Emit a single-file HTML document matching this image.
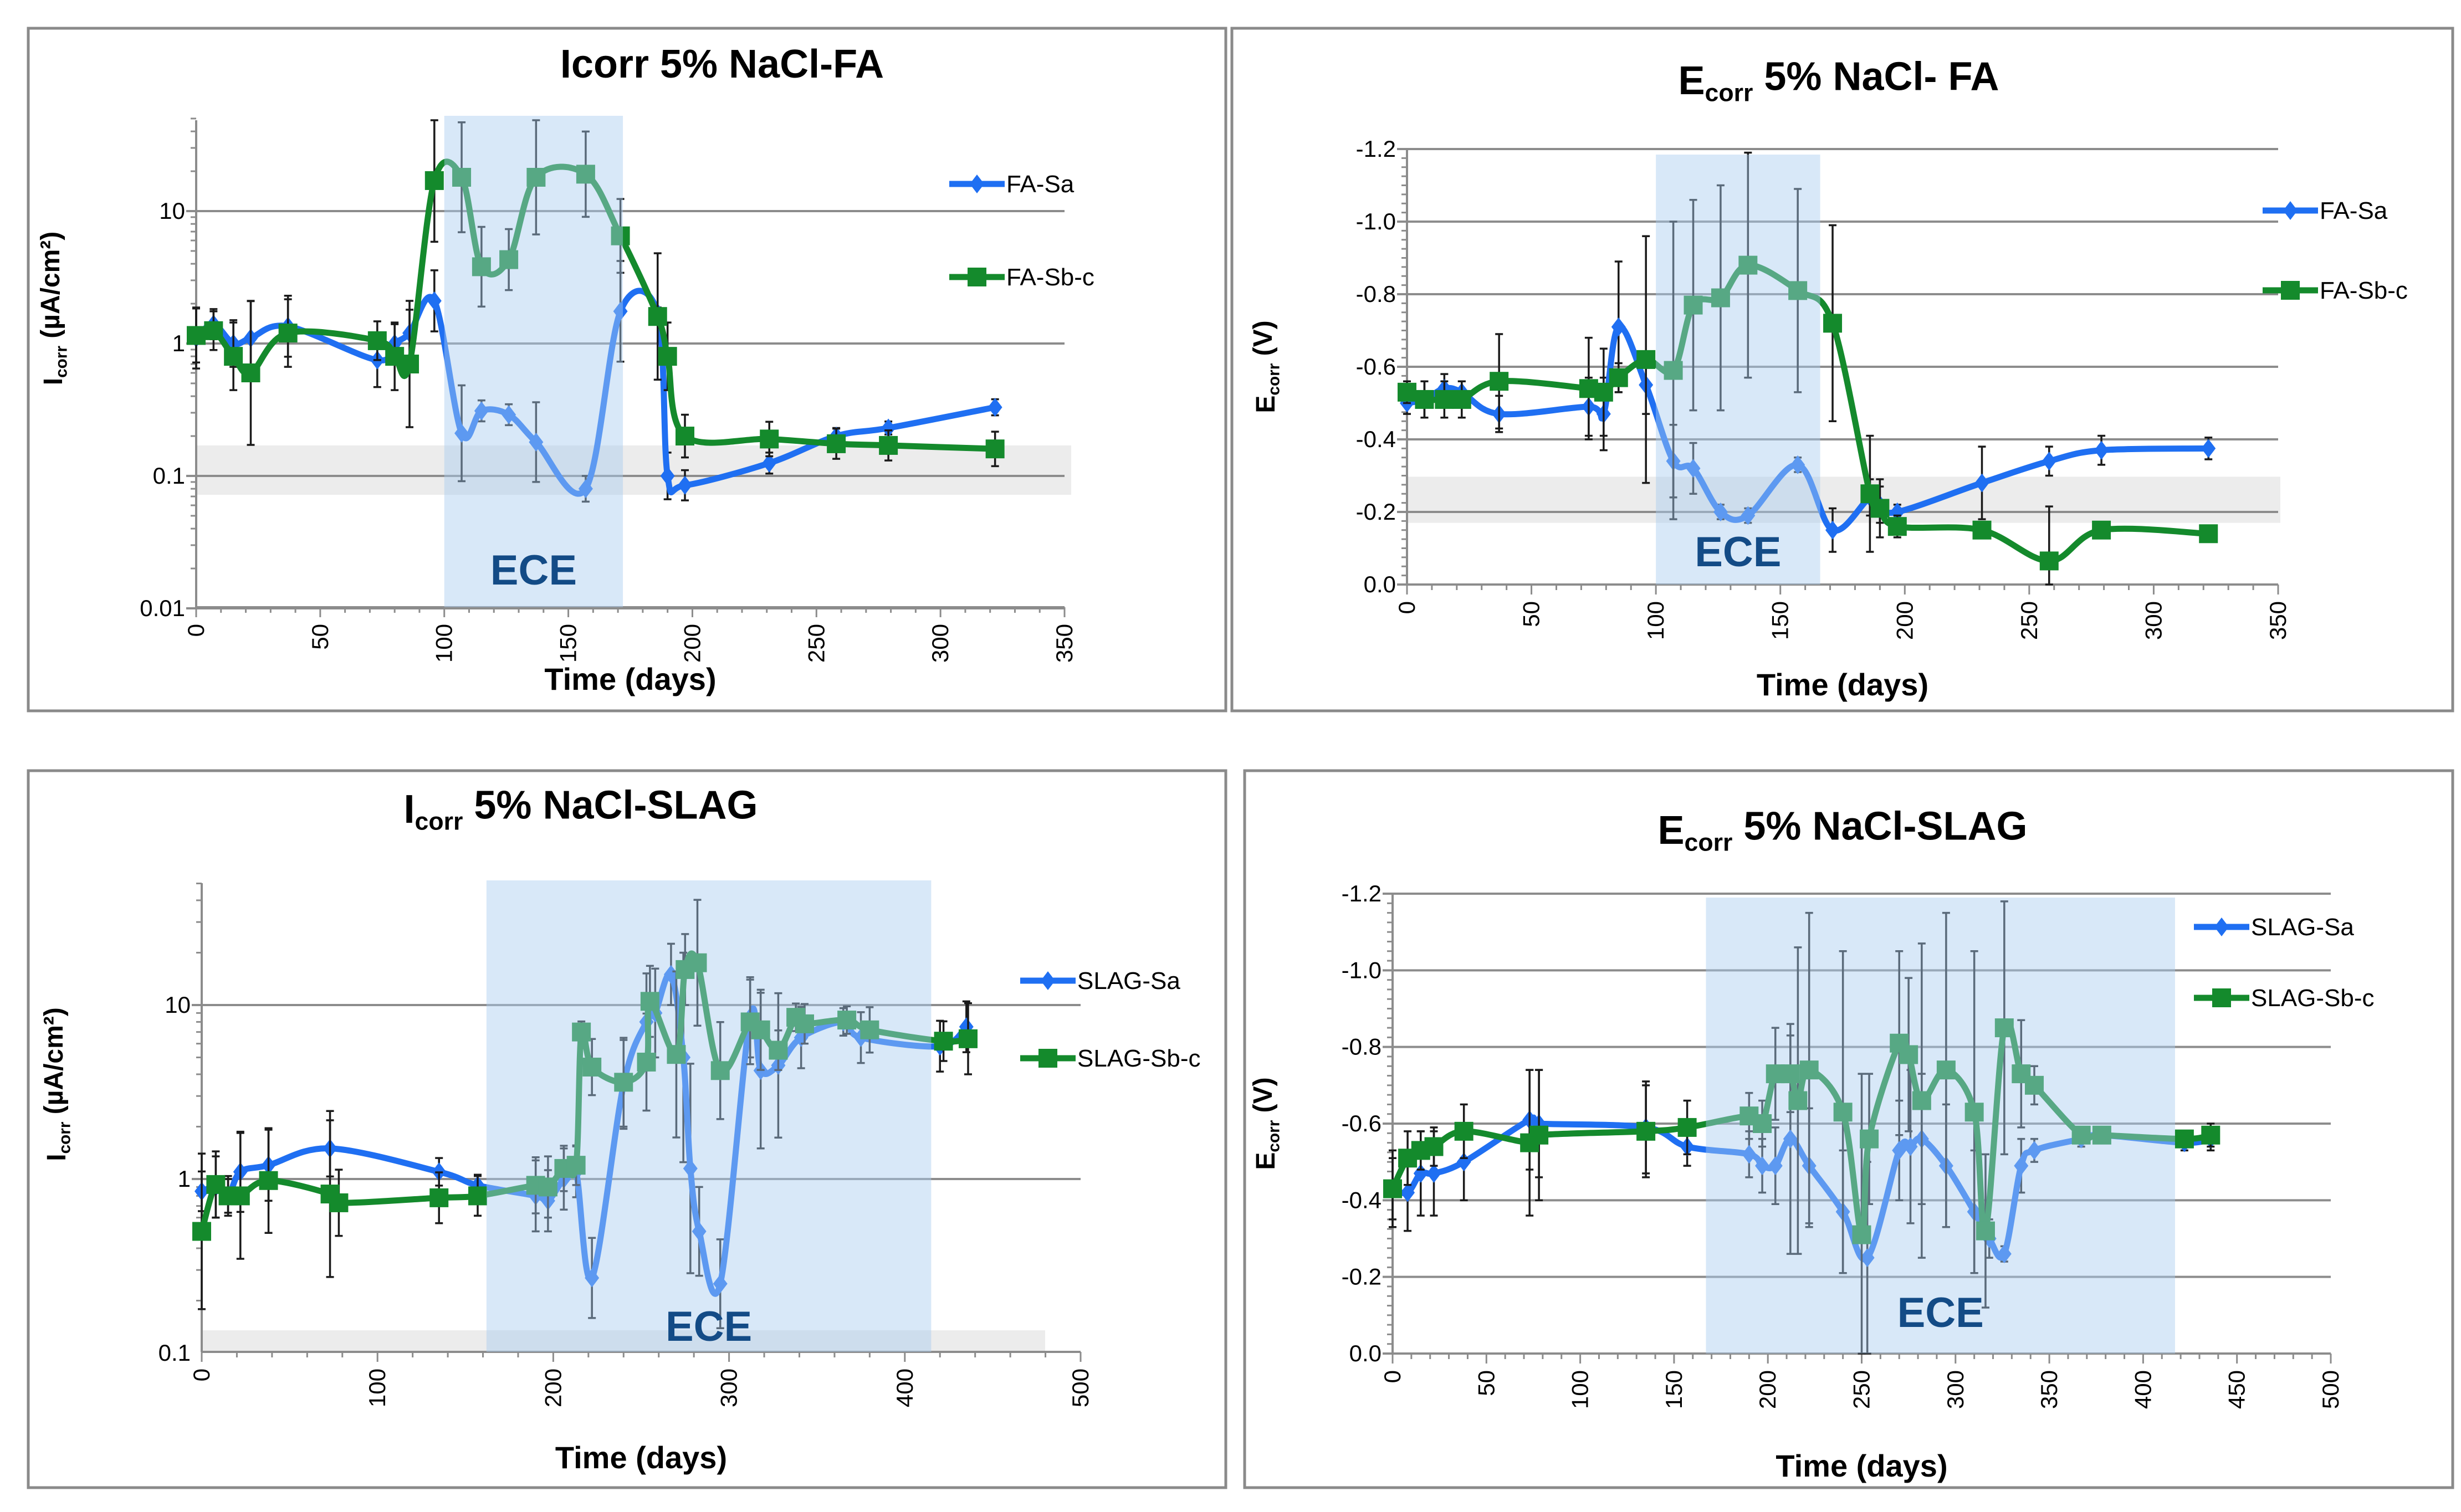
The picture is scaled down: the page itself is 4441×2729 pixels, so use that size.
<!DOCTYPE html>
<html><head><meta charset="utf-8"><style>
html,body{margin:0;padding:0;background:#fff;}
svg{display:block;font-family:"Liberation Sans Narrow","Liberation Sans",sans-serif;}
</style></head><body>
<svg id="s" width="4441" height="2729" viewBox="0 0 4441 2729" xmlns="http://www.w3.org/2000/svg"></svg>
<script>
// ---------- Panel 1: Icorr FA ----------
const p1Days=[0,7,15,22,37,73,80,86,96,107,115,126,137,157,171,186,190,197,231,258,279,322];
const p1Sa=[1.1,1.4,1.0,1.1,1.35,0.75,1.0,1.2,2.1,0.21,0.31,0.29,0.18,0.08,1.75,1.7,0.1,0.085,0.125,0.2,0.23,0.33];
const p1SaErr=[1.7,1.3,1.5,1.9,1.7,1.6,1.4,1.5,1.7,2.3,1.2,1.2,2,1.25,2.4,1.1,1.5,1.3,1.2,1.15,1.12,1.15];
const p1Sb=[1.15,1.25,0.8,0.6,1.2,1.05,0.8,0.7,17,18,3.8,4.3,18,19,6.5,1.6,0.8,0.2,0.19,0.175,0.17,0.16];
const p1SbErr=[1.6,1.4,1.8,3.5,1.8,1.4,1.8,3,2.9,2.6,2,1.7,2.7,2.1,1.9,3,1.8,1.45,1.35,1.3,1.3,1.35];
// ---------- Panel 2: Ecorr FA ----------
const p2Days=[0,7,15,22,37,73,79,85,96,107,115,126,137,157,171,186,190,197,231,258,279,322];
const p2Sa=[-0.50,-0.51,-0.54,-0.53,-0.47,-0.49,-0.47,-0.71,-0.55,-0.34,-0.32,-0.20,-0.19,-0.33,-0.15,-0.24,-0.22,-0.20,-0.28,-0.34,-0.37,-0.375];
const p2SaErr=[0.03,0.05,0.04,0.03,0.05,0.08,0.1,0.18,0.08,0.1,0.07,0.02,0.02,0.02,0.06,0.05,0.05,0.02,0.1,0.04,0.04,0.03];
const p2Sb=[-0.53,-0.51,-0.51,-0.51,-0.56,-0.54,-0.53,-0.57,-0.62,-0.59,-0.77,-0.79,-0.88,-0.81,-0.72,-0.25,-0.21,-0.16,-0.15,-0.065,-0.15,-0.14];
const p2SbErr=[0.03,0.05,0.05,0.05,0.13,0.14,0.12,0.04,0.34,0.41,0.29,0.31,0.31,0.28,0.27,0.16,0.08,0.03,0.01,0.15,0.02,0.02];
// ---------- Panel 3: Icorr SLAG ----------
const p3SaDays=[0,8,15,22,38,73,135,157,190,197,206,213,222,240,253,258,267,274,278,283,295,312,318,328,341,365,375,420,435];
const p3Sa=[0.85,0.9,0.8,1.1,1.2,1.5,1.1,0.92,0.8,0.75,1.0,1.1,0.27,3.5,8,9,15,5,1.15,0.5,0.25,8.5,4.2,4.5,6.5,8,6.5,5.8,7.5];
const p3SaErr=[1.3,1.5,1.3,1.7,1.6,1.45,1.2,1.15,1.6,1.5,1.5,1.4,1.7,1.8,1.9,1.8,1.5,4,4,1.8,1.8,1.7,2.8,2.6,1.5,1.2,1.4,1.4,1.4];
const p3SbDays=[0,8,15,22,38,73,78,135,157,190,197,206,213,216,222,240,253,255,270,275,282,295,312,318,328,338,343,367,380,422,436];
const p3Sb=[0.5,0.93,0.8,0.8,0.98,0.82,0.73,0.78,0.8,0.92,0.9,1.15,1.2,7,4.4,3.6,4.7,10.5,5.2,16,17.5,4.2,8,7.2,5.5,8.5,7.8,8.2,7.2,6.2,6.4];
const p3SbErr=[2.8,1.55,1.25,2.3,2.0,3,1.55,1.4,1.3,1.45,1.5,1.35,1.3,1.15,1.45,1.8,1.9,1.6,3,1.6,2.3,1.9,1.75,1.7,1.3,1.2,1.3,1.2,1.35,1.3,1.6];
// ---------- Panel 4: Ecorr SLAG ----------
const p4SaDays=[0,8,15,22,38,73,78,135,157,190,197,204,212,222,240,253,270,276,282,295,310,318,326,335,342,367,378,422,436];
const p4Sa=[-0.43,-0.42,-0.47,-0.47,-0.50,-0.61,-0.60,-0.59,-0.54,-0.52,-0.49,-0.49,-0.56,-0.49,-0.37,-0.25,-0.53,-0.54,-0.56,-0.49,-0.37,-0.30,-0.26,-0.49,-0.53,-0.56,-0.57,-0.55,-0.56];
const p4SaErr=[0.08,0.1,0.11,0.11,0.1,0.13,0.14,0.12,0.05,0.06,0.07,0.1,0.3,0.15,0.16,0.25,0.13,0.2,0.17,0.16,0.16,0.05,0.02,0.07,0.03,0.02,0.02,0.02,0.03];
const p4SbDays=[0,8,15,22,38,73,78,135,157,190,197,204,212,216,222,240,250,254,270,275,282,295,310,316,326,335,342,367,378,422,436];
const p4Sb=[-0.43,-0.51,-0.53,-0.54,-0.58,-0.55,-0.57,-0.58,-0.59,-0.62,-0.60,-0.73,-0.73,-0.66,-0.74,-0.63,-0.31,-0.56,-0.81,-0.78,-0.66,-0.74,-0.63,-0.32,-0.85,-0.73,-0.70,-0.57,-0.57,-0.56,-0.57];
const p4SbErr=[0.1,0.07,0.05,0.05,0.07,0.19,0.17,0.12,0.07,0.06,0.06,0.12,0.1,0.4,0.41,0.42,0.42,0.17,0.24,0.2,0.41,0.41,0.42,0.2,0.33,0.14,0.05,0.02,0.02,0.02,0.03];

const NS="http://www.w3.org/2000/svg";
const svg=document.getElementById('s');
const BLUE="#1f6ff2", GREEN="#148a2c";
function el(tag,attrs,parent){const e=document.createElementNS(NS,tag);for(const k in attrs)e.setAttribute(k,attrs[k]);(parent||svg).appendChild(e);return e;}
function spline(pts){
  if(pts.length<2)return "";
  let d="M"+pts[0][0].toFixed(1)+","+pts[0][1].toFixed(1);
  const t=0.5/3*2;
  for(let i=0;i<pts.length-1;i++){
    const p0=pts[Math.max(0,i-1)],p1=pts[i],p2=pts[i+1],p3=pts[Math.min(pts.length-1,i+2)];
    const c1x=p1[0]+(p2[0]-p0[0])*t/2,c1y=p1[1]+(p2[1]-p0[1])*t/2;
    const c2x=p2[0]-(p3[0]-p1[0])*t/2,c2y=p2[1]-(p3[1]-p1[1])*t/2;
    d+=" C"+c1x.toFixed(1)+","+c1y.toFixed(1)+" "+c2x.toFixed(1)+","+c2y.toFixed(1)+" "+p2[0].toFixed(1)+","+p2[1].toFixed(1);
  }
  return d;
}
function chart(c){
  const g=el('g',{});
  
  
  const fr=el('rect',{x:c.frame[0],y:c.frame[1],width:c.frame[2]-c.frame[0],height:c.frame[3]-c.frame[1],fill:'#fff',stroke:'#8a8a8a','stroke-width':5},g);
  
  
  const X=v=>c.px0+(v-c.xmin)/(c.xmax-c.xmin)*(c.px1-c.px0);
  const Y=c.Y;
  const gb=el('rect',{x:c.px0,y:Y(c.grey[1]),width:c.greyRight-c.px0,height:Y(c.grey[0])-Y(c.grey[1]),fill:'#e4e4e4',opacity:0.7},g);
  
  
  c.grid.forEach(v=>{const l=el('line',{x1:c.px0,x2:c.px1,y1:Y(v),y2:Y(v),stroke:'#8c8c8c','stroke-width':4},g);
    });
  const ya=el('line',{x1:c.px0,x2:c.px0,y1:c.pyTop,y2:c.pyBot,stroke:'#8c8c8c','stroke-width':4},g);
  
  const xa=el('line',{x1:c.px0,x2:c.px1,y1:c.pyBot,y2:c.pyBot,stroke:'#8c8c8c','stroke-width':4},g);
  
  c.yMinor.forEach(v=>{el('line',{x1:c.px0-10,x2:c.px0,y1:Y(v),y2:Y(v),stroke:'#8c8c8c','stroke-width':3},g);});
  c.grid.forEach(v=>{el('line',{x1:c.px0-18,x2:c.px0,y1:Y(v),y2:Y(v),stroke:'#8c8c8c','stroke-width':4},g);});
  for(let v=c.xmin;v<=c.xmax;v+=c.xminor){el('line',{x1:X(v),x2:X(v),y1:c.pyBot,y2:c.pyBot+(v%c.xstep===0?18:10),stroke:'#8c8c8c','stroke-width':3},g);}
  c.yTicks.forEach((v,i)=>{const t=el('text',{x:c.px0-20,y:Y(v)+14,'text-anchor':'end','font-size':42,fill:'#000'},g);t.textContent=c.yLabels[i];
    });
  for(let v=c.xmin;v<=c.xmax;v+=c.xstep){const xx=X(v)+14,yy=c.pyBot+30;
    const t=el('text',{x:xx,y:yy,'text-anchor':'end','font-size':42,fill:'#000','font-family':'Liberation Sans, sans-serif',transform:`rotate(-90 ${xx} ${yy})`},g);t.textContent=String(v);
    }
  c.series.forEach(s=>{
    const sg=el('g',{},g);
    
    
    s.days.forEach((d,i)=>{const lo=c.log?s.vals[i]/s.err[i]:s.vals[i]+s.err[i],hi=c.log?s.vals[i]*s.err[i]:s.vals[i]-s.err[i];
      const x=X(d),y1=Math.min(c.pyBot,Y(lo)),y2=Math.max(c.pyTop,Y(hi));
      el('path',{d:`M${x},${y1}V${y2}M${x-7},${y1}h14M${x-7},${y2}h14`,stroke:'#1a1a1a','stroke-width':3.5,fill:'none'},sg);});
    const pts=s.days.map((d,i)=>[X(d),Y(s.vals[i])]);
    const p=el('path',{d:spline(pts),stroke:s.color,'stroke-width':11,fill:'none','stroke-linejoin':'round'},sg);
    
    pts.forEach(q=>{let m;
      if(s.marker==='d')m=el('path',{d:`M${q[0]},${q[1]-17}L${q[0]+13},${q[1]}L${q[0]},${q[1]+17}L${q[0]-13},${q[1]}Z`,fill:s.color},sg);
      else m=el('rect',{x:q[0]-17,y:q[1]-17,width:34,height:34,fill:s.color},sg);
      });
  });
  const eb=el('rect',{x:X(c.ece[0]),y:c.eceTop,width:X(c.ece[1])-X(c.ece[0]),height:c.pyBot-c.eceTop,fill:'#a9cdf0',opacity:0.45},g);
  
  const et=el('text',{x:(X(c.ece[0])+X(c.ece[1]))/2+c.eceDx,y:c.eceY,'text-anchor':'middle','font-size':76,'font-weight':'bold',fill:'#134b86'},g);
  et.textContent='ECE';
  c.series.forEach((s,i)=>{const lg=el('g',{},g);
    const ly=c.legY[i];
    el('line',{x1:c.legX,x2:c.legX+100,y1:ly,y2:ly,stroke:s.color,'stroke-width':11},lg);
    const mx=c.legX+50;
    if(s.marker==='d')el('path',{d:`M${mx},${ly-17}L${mx+13},${ly}L${mx},${ly+17}L${mx-13},${ly}Z`,fill:s.color},lg);
    else el('rect',{x:mx-17,y:ly-17,width:34,height:34,fill:s.color},lg);
    const t=el('text',{x:c.legX+103,y:ly+15,'font-size':44,fill:'#000'},lg);t.textContent=s.label;});
  const tt=el('text',{x:c.titleX,y:c.titleY,'text-anchor':'middle','font-size':72,'font-weight':'bold',fill:'#000'},g);
  tt.innerHTML=c.title;
  const xt=el('text',{x:(c.px0+c.px1)/2,y:c.xTitleY,'text-anchor':'middle','font-size':56,'font-weight':'bold',fill:'#000'},g);
  xt.textContent='Time (days)';
  const yc=(c.pyTop+c.pyBot)/2+c.yTitleDy;
  const yt=el('text',{x:c.yTitleX,y:yc,'text-anchor':'middle','font-size':48,'font-weight':'bold',fill:'#000','font-family':'Liberation Sans, sans-serif',transform:`rotate(-90 ${c.yTitleX} ${yc})`},g);
  yt.innerHTML=c.yTitle;
}
function logY(v10,v1){return v=>v1-(Math.log10(v))*(v1-v10);}
function linY(p12,p0){return v=>p0+(v/-1.2)*(p12-p0);}
const logMinor=(lo,hi)=>{const a=[];for(let e=lo;e<hi;e++)for(let k=2;k<=9;k++)a.push(k*Math.pow(10,e));return a;};
const linMinor=()=>{const a=[];for(let i=0;i<=48;i++)a.push(-i*0.025);return a;};
const subI=n=>`${n}<tspan font-size="0.62em" dy="0.28em">corr</tspan><tspan dy="-0.28em"> </tspan>`;

chart({name:'icorr-fa-chart',frame:[51,51,2212,1283],px0:354,px1:1921,xmin:0,xmax:350,xstep:50,xminor:10,pyTop:217,pyBot:1096,
  Y:logY(381,620),log:true,grid:[0.01,0.1,1,10],yTicks:[0.01,0.1,1,10],yLabels:['0.01','0.1','1','10'],yMinor:logMinor(-2,2).filter(v=>v<=50),
  grey:[0.072,0.17],greyRight:1933,ece:[100,172],eceTop:209,eceY:1055,eceDx:0,legX:1713,legY:[332,500],
  series:[{key:'fa-sa-series',label:'FA-Sa',days:p1Days,vals:p1Sa,err:p1SaErr,color:BLUE,marker:'d'},
          {key:'fa-sbc-series',label:'FA-Sb-c',days:p1Days,vals:p1Sb,err:p1SbErr,color:GREEN,marker:'s'}],
  title:'Icorr 5% NaCl-FA',titleX:1303,titleY:140,xTitleY:1245,yTitleX:112,yTitleDy:-100,
  yTitle:'I<tspan font-size="0.62em" dy="0.28em">corr</tspan><tspan dy="-0.28em"> (µA/cm²)</tspan>'});

chart({name:'ecorr-fa-chart',frame:[2223,51,4426,1283],px0:2539,px1:4111,xmin:0,xmax:350,xstep:50,xminor:10,pyTop:269,pyBot:1055,
  Y:linY(269,1055),log:false,grid:[-1.2,-1.0,-0.8,-0.6,-0.4,-0.2,0],yTicks:[-1.2,-1.0,-0.8,-0.6,-0.4,-0.2,0],yLabels:['-1.2','-1.0','-0.8','-0.6','-0.4','-0.2','0.0'],yMinor:linMinor(),
  grey:[-0.17,-0.297],greyRight:4115,ece:[100,166],eceTop:279,eceY:1022,eceDx:0,legX:4083,legY:[380,524],
  series:[{key:'fa-sa-series',label:'FA-Sa',days:p2Days,vals:p2Sa,err:p2SaErr,color:BLUE,marker:'d'},
          {key:'fa-sbc-series',label:'FA-Sb-c',days:p2Days,vals:p2Sb,err:p2SbErr,color:GREEN,marker:'s'}],
  title:subI('E')+'5% NaCl- FA',titleX:3318,titleY:170,xTitleY:1255,yTitleX:2300,yTitleDy:0,
  yTitle:'E<tspan font-size="0.62em" dy="0.28em">corr</tspan><tspan dy="-0.28em"> (V)</tspan>'});

chart({name:'icorr-slag-chart',frame:[51,1391,2212,2685],px0:364,px1:1950,xmin:0,xmax:500,xstep:100,xminor:20,pyTop:1594,pyBot:2440,
  Y:logY(1814,2128),log:true,grid:[1,10],yTicks:[0.1,1,10],yLabels:['0.1','1','10'],yMinor:logMinor(-1,2).filter(v=>v<=50&&v>0.1),
  grey:[0.1,0.135],greyRight:1886,ece:[162,415],eceTop:1589,eceY:2420,eceDx:0,legX:1841,legY:[1770,1910],
  series:[{key:'slag-sa-series',label:'SLAG-Sa',days:p3SaDays,vals:p3Sa,err:p3SaErr,color:BLUE,marker:'d'},
          {key:'slag-sbc-series',label:'SLAG-Sb-c',days:p3SbDays,vals:p3Sb,err:p3SbErr,color:GREEN,marker:'s'}],
  title:subI('I')+'5% NaCl-SLAG',titleX:1048,titleY:1485,xTitleY:2650,yTitleX:118,yTitleDy:-60,
  yTitle:'I<tspan font-size="0.62em" dy="0.28em">corr</tspan><tspan dy="-0.28em"> (µA/cm²)</tspan>'});

chart({name:'ecorr-slag-chart',frame:[2246,1391,4426,2685],px0:2513,px1:4206,xmin:0,xmax:500,xstep:50,xminor:10,pyTop:1613,pyBot:2443,
  Y:linY(1613,2443),log:false,grid:[-1.2,-1.0,-0.8,-0.6,-0.4,-0.2,0],yTicks:[-1.2,-1.0,-0.8,-0.6,-0.4,-0.2,0],yLabels:['-1.2','-1.0','-0.8','-0.6','-0.4','-0.2','0.0'],yMinor:linMinor(),
  grey:[0,0],greyRight:2513,ece:[167,417],eceTop:1620,eceY:2395,eceDx:0,legX:3959,legY:[1673,1801],
  series:[{key:'slag-sa-series',label:'SLAG-Sa',days:p4SaDays,vals:p4Sa,err:p4SaErr,color:BLUE,marker:'d'},
          {key:'slag-sbc-series',label:'SLAG-Sb-c',days:p4SbDays,vals:p4Sb,err:p4SbErr,color:GREEN,marker:'s'}],
  title:subI('E')+'5% NaCl-SLAG',titleX:3325,titleY:1523,xTitleY:2665,yTitleX:2300,yTitleDy:0,
  yTitle:'E<tspan font-size="0.62em" dy="0.28em">corr</tspan><tspan dy="-0.28em"> (V)</tspan>'});
</script>
</body></html>
